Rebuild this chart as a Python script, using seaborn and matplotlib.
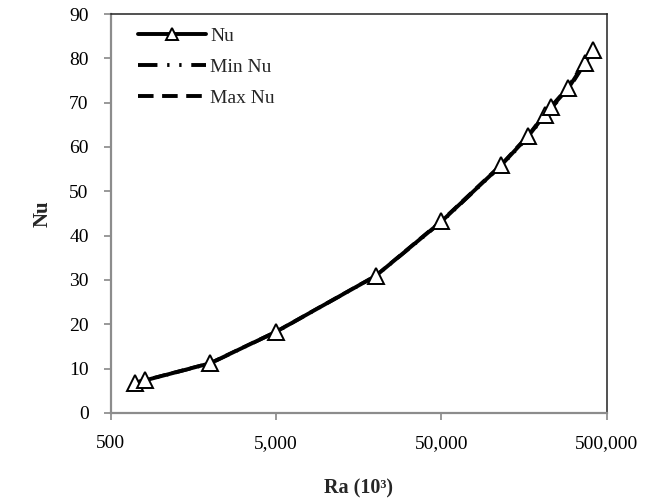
import matplotlib
matplotlib.use("Agg")
import matplotlib.pyplot as plt
from matplotlib.ticker import FixedLocator, FuncFormatter, NullLocator
from matplotlib.lines import Line2D
import seaborn as sns
import pandas as pd

# Rayleigh number (in thousands) and Nusselt number
ra = [700, 800, 2000, 5000, 20000, 50000, 115000, 168000, 210000, 231000, 293000, 367000, 415000]
nu = [6.8, 7.3, 11.2, 18.3, 30.9, 43.2, 55.9, 62.5, 67.2, 69.0, 73.3, 79.0, 81.9]
nu_min = [6.7, 7.2, 11.1, 18.2, 30.8, 43.0, 55.7, 62.2, 66.9, 68.7, 72.9, 78.6, 81.5]
nu_max = [6.9, 7.4, 11.3, 18.4, 31.0, 43.4, 56.1, 62.8, 67.5, 69.3, 73.7, 79.4, 82.5]

x_ticks = [500, 5000, 50000, 500000]
y_ticks = [0, 10, 20, 30, 40, 50, 60, 70, 80, 90]

df = pd.DataFrame({"Ra": ra, "Nu": nu, "Min Nu": nu_min, "Max Nu": nu_max})

sns.set_style("white")
plt.rcParams["font.family"] = ["Liberation Serif", "DejaVu Serif"]

fig = plt.figure(figsize=(6.56, 5.01), dpi=100)
ax = fig.add_axes([0.169, 0.176, 0.756, 0.796])

dashdot = (0, (5, 2.5, 0.6, 2.5, 0.6, 2.5))
dashed = (0, (4, 2.2))

sns.lineplot(data=df, x="Ra", y="Min Nu", ax=ax, color="black", linewidth=2.2,
             estimator=None, sort=False, label="_nolegend_", linestyle=dashdot)
sns.lineplot(data=df, x="Ra", y="Max Nu", ax=ax, color="black", linewidth=2.2,
             estimator=None, sort=False, label="_nolegend_", linestyle=dashed)
sns.lineplot(data=df, x="Ra", y="Nu", ax=ax, color="black", linewidth=2.8,
             estimator=None, sort=False, label="_nolegend_",
             marker="^", markersize=11.5, markerfacecolor="white",
             markeredgecolor="black", markeredgewidth=1.4)

ax.set_xscale("log")
ax.set_xlim(500, 500000)
ax.set_ylim(0, 90)
ax.xaxis.set_major_locator(FixedLocator(x_ticks))
ax.xaxis.set_minor_locator(NullLocator())
ax.xaxis.set_major_formatter(FuncFormatter(lambda v, p: f"{int(round(v)):,}"))
ax.set_yticks(y_ticks)

ax.tick_params(axis="both", which="major", labelsize=14, colors="#888888",
               labelcolor="black", length=5, width=1.2, direction="out")
ax.tick_params(axis="x", pad=11)
ax.tick_params(axis="y", pad=11)
ax.tick_params(left=True, bottom=True)

for side in ("left", "bottom"):
    ax.spines[side].set_color("#8c8c8c")
    ax.spines[side].set_linewidth(1.6)
for side in ("top", "right"):
    ax.spines[side].set_color("#222222")
    ax.spines[side].set_linewidth(1.1)

ax.set_xlabel("Ra (10³)", fontsize=14.5, fontweight="bold", labelpad=19)
ax.set_ylabel("Nu", fontsize=15, fontweight="bold", labelpad=12)

handles = [
    Line2D([], [], color="black", linewidth=2.8, marker="^", markersize=9,
           markerfacecolor="white", markeredgecolor="black", markeredgewidth=1.4),
    Line2D([], [], color="black", linewidth=2.8, linestyle=dashdot),
    Line2D([], [], color="black", linewidth=2.8, linestyle=dashed),
]
ax.legend(handles, ["Nu", "Min Nu", "Max Nu"], loc="upper left",
          frameon=False, fontsize=14, handlelength=3.5, handletextpad=0.2,
          labelspacing=0.68, borderaxespad=0.3, bbox_to_anchor=(0.028, 1.0))

fig.savefig("out.png", dpi=100)
